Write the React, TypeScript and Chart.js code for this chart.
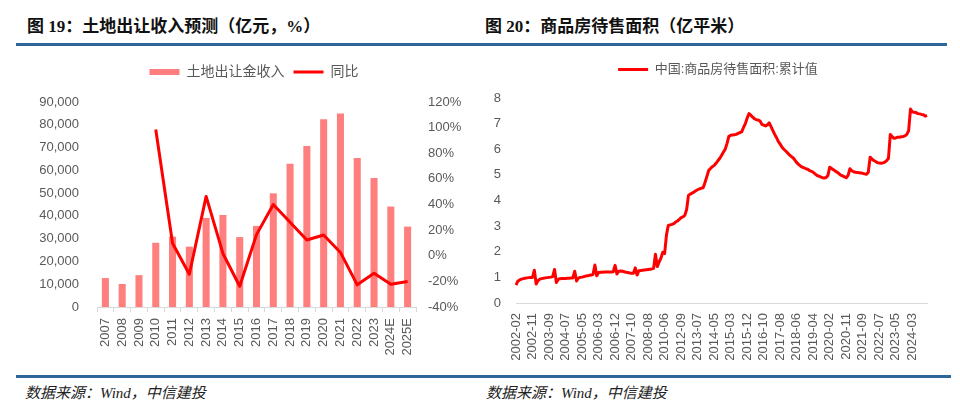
import React, { useEffect, useRef } from 'react';
import { Chart, registerables } from 'chart.js';

Chart.register(...registerables);

// ---------- Figure 19: land transfer revenue ----------
const landYears = ['2007', '2008', '2009', '2010', '2011', '2012', '2013', '2014', '2015', '2016', '2017', '2018', '2019', '2020', '2021', '2022', '2023', '2024E', '2025E'];
const landRevenue = [12700, 10100, 14000, 28200, 30900, 26500, 39100, 40400, 30700, 35600, 49900, 62900, 70700, 82400, 85000, 65400, 56600, 44100, 35300];
const landYoY = [null, null, null, 98.6, 9.7, -14.4, 46.3, 1.8, -23.8, 16.5, 40.0, 26.1, 12.3, 16.2, 2.6, -22.7, -13.6, -22.2, -20.1];

// ---------- Figure 20: commodity housing area for sale (100m m2) ----------
const stock2002 = [0.70, 0.85, 0.90, 0.93, 0.95, 0.97, 0.98, 0.99, 1.00, 1.00, 1.28];
const stock2003 = [0.74, 0.88, 0.93, 0.95, 0.97, 0.98, 0.99, 1.00, 1.01, 1.03, 1.31];
const stock2004 = [0.80, 0.92, 0.95, 0.96, 0.96, 0.96, 0.97, 0.97, 0.98, 0.98, 1.24];
const stock2005 = [0.86, 0.97, 1.00, 1.01, 1.03, 1.05, 1.06, 1.08, 1.09, 1.12, 1.48];
const stock2006 = [1.06, 1.19, 1.20, 1.20, 1.21, 1.21, 1.21, 1.21, 1.21, 1.22, 1.47];
const stock2007 = [1.13, 1.24, 1.25, 1.24, 1.22, 1.20, 1.19, 1.17, 1.16, 1.16, 1.37];
const stock2008 = [1.09, 1.26, 1.27, 1.28, 1.29, 1.30, 1.31, 1.32, 1.33, 1.35, 1.90];
const stock2010 = [1.42, 1.60, 1.75, 1.98, 1.93];
const stock2011 = [2.65];
const stock2012 = [3.03, 3.05, 3.07, 3.10, 3.16, 3.20, 3.26, 3.33, 3.36, 3.42, 3.65];
const stock2013 = [4.20, 4.25, 4.29, 4.33, 4.38, 4.42, 4.45, 4.48, 4.50, 4.70, 4.93];
const stock2014 = [5.17, 5.25, 5.32, 5.37, 5.45, 5.55, 5.64, 5.76, 5.88, 6.00, 6.22];
const stock2015 = [6.50, 6.55, 6.56, 6.57, 6.58, 6.62, 6.65, 6.68, 6.85, 7.00, 7.22];
const stock2016 = [7.39, 7.33, 7.25, 7.19, 7.15, 7.14, 7.10, 6.97, 6.94, 6.91, 6.95];
const stock2017 = [7.03, 6.88, 6.73, 6.58, 6.45, 6.30, 6.20, 6.08, 6.00, 5.93, 5.86];
const stock2018 = [5.78, 5.72, 5.67, 5.58, 5.48, 5.41, 5.35, 5.30, 5.27, 5.24, 5.22];
const stock2019 = [5.17, 5.14, 5.10, 5.04, 4.98, 4.95, 4.92, 4.89, 4.88, 4.90, 4.98];
const stock2020 = [5.30, 5.25, 5.20, 5.15, 5.10, 5.05, 4.99, 4.96, 4.92, 4.89, 4.98];
const stock2021 = [5.24, 5.16, 5.12, 5.10, 5.09, 5.08, 5.07, 5.06, 5.04, 5.02, 5.10];
const stock2022 = [5.69, 5.62, 5.56, 5.52, 5.48, 5.46, 5.45, 5.47, 5.50, 5.56, 5.64];
const stock2023 = [6.58, 6.49, 6.43, 6.44, 6.47, 6.47, 6.49, 6.50, 6.52, 6.58, 6.73];
const stock2024 = [7.57, 7.46, 7.44, 7.43, 7.39, 7.38, 7.36, 7.35, 7.29, 7.32];

// [year, first month, values]
const stockSegments: Array<[number, number, number[]]> = [
  [2002, 2, stock2002], [2003, 2, stock2003], [2004, 2, stock2004], [2005, 2, stock2005],
  [2006, 2, stock2006], [2007, 2, stock2007], [2008, 2, stock2008], [2010, 2, stock2010],
  [2011, 12, stock2011], [2012, 2, stock2012], [2013, 2, stock2013], [2014, 2, stock2014],
  [2015, 2, stock2015], [2016, 2, stock2016], [2017, 2, stock2017], [2018, 2, stock2018],
  [2019, 2, stock2019], [2020, 2, stock2020], [2021, 2, stock2021], [2022, 2, stock2022],
  [2023, 2, stock2023], [2024, 2, stock2024],
];

const stockLabels: string[] = [];
const stockValues: number[] = [];
stockSegments.forEach(([year, m0, vals]) => {
  vals.forEach((v, k) => {
    const m = m0 + k;
    stockLabels.push(`${year}-${m < 10 ? '0' + m : m}`);
    stockValues.push(v);
  });
});
const STOCK_LABEL_STEP = 9;

const FONT = "'Liberation Sans', 'Noto Sans CJK SC', sans-serif";
const GRAY = '#595959';
const AXIS = '#d9d9d9';

// adds extra space between the legend and the plot area
const legendGap = {
  id: 'legendGap',
  afterInit(chart: any, _args: any, opts: any) {
    const legend = chart.legend;
    if (!legend) return;
    const origFit = legend.fit;
    legend.fit = function () {
      origFit.call(this);
      this.height += (opts && opts.gap) || 0;
    };
  },
};

function LandChart() {
  const ref = useRef<HTMLCanvasElement>(null);
  useEffect(() => {
    const chart = new Chart(ref.current!, {
      type: 'bar',
      data: {
        labels: landYears,
        datasets: [
          {
            type: 'bar',
            label: '土地出让金收入',
            data: landRevenue,
            backgroundColor: '#ff7f7f',
            borderWidth: 0,
            yAxisID: 'y',
            barPercentage: 0.42,
            categoryPercentage: 1,
            pointStyle: 'rect',
            order: 2,
          } as any,
          {
            type: 'line',
            label: '同比',
            data: landYoY,
            borderColor: '#ff0000',
            backgroundColor: '#ff0000',
            borderWidth: 3,
            pointRadius: 0,
            borderJoinStyle: 'round',
            yAxisID: 'y1',
            pointStyle: 'line',
            order: 1,
          } as any,
        ],
      },
      plugins: [legendGap],
      options: {
        animation: false,
        responsive: false,
        maintainAspectRatio: false,
        layout: { padding: { top: 0, left: 28, right: 0, bottom: 0 } },
        plugins: {
          legendGap: { gap: 13 },
          legend: {
            position: 'top',
            labels: {
              usePointStyle: true,
              pointStyleWidth: 30,
              boxHeight: 6,
              color: GRAY,
              font: { family: FONT, size: 14 },
              padding: 9,
              sort: (a: any, b: any) => a.datasetIndex - b.datasetIndex,
            },
          },
          tooltip: { enabled: false },
        },
        scales: {
          x: {
            grid: { display: true, drawOnChartArea: false, drawTicks: true, tickLength: 5, color: AXIS, offset: true },
            border: { display: true, color: AXIS },
            ticks: { color: GRAY, font: { family: FONT, size: 13 }, maxRotation: 90, minRotation: 90, autoSkip: false, padding: 6 },
            afterFit: (s: any) => { s.height = 63; },
          },
          y: {
            position: 'left',
            min: 0,
            max: 90000,
            ticks: {
              stepSize: 10000,
              color: GRAY,
              font: { family: FONT, size: 13 },
              padding: 18,
              callback: (v: any) => Number(v).toLocaleString('en-US'),
            },
            grid: { display: false, drawTicks: false },
            border: { display: false },
            afterFit: (s: any) => { s.width = 69; },
          },
          y1: {
            position: 'right',
            min: -40,
            max: 120,
            ticks: {
              stepSize: 20,
              color: GRAY,
              font: { family: FONT, size: 13 },
              padding: 12,
              callback: (v: any) => `${v}%`,
            },
            grid: { display: false, drawTicks: false },
            border: { display: false },
            afterFit: (s: any) => { s.width = 64; },
          },
        },
      } as any,
    });
    return () => chart.destroy();
  }, []);
  return (
    <canvas
      ref={ref}
      width={480}
      height={314}
      style={{ position: 'absolute', left: 0, top: 56, width: 480, height: 314 }}
    />
  );
}

function StockChart() {
  const ref = useRef<HTMLCanvasElement>(null);
  useEffect(() => {
    const chart = new Chart(ref.current!, {
      type: 'line',
      data: {
        labels: stockLabels,
        datasets: [
          {
            label: '中国:商品房待售面积:累计值',
            data: stockValues,
            borderColor: '#ff0000',
            backgroundColor: '#ff0000',
            borderWidth: 3,
            pointRadius: 0,
            borderJoinStyle: 'round',
            pointStyle: 'line',
            tension: 0,
          } as any,
        ],
      },
      plugins: [legendGap],
      options: {
        animation: false,
        responsive: false,
        maintainAspectRatio: false,
        layout: { padding: { top: 0, left: 0, right: 4, bottom: 0 } },
        plugins: {
          legendGap: { gap: 12 },
          legend: {
            position: 'top',
            labels: {
              usePointStyle: true,
              pointStyleWidth: 30,
              boxHeight: 6,
              color: GRAY,
              font: { family: FONT, size: 13 },
              padding: 7,
            },
          },
          tooltip: { enabled: false },
        },
        scales: {
          x: {
            offset: false,
            grid: { display: false, drawTicks: false },
            border: { display: true, color: AXIS },
            ticks: {
              color: GRAY,
              font: { family: FONT, size: 13 },
              maxRotation: 90,
              minRotation: 90,
              autoSkip: false,
              padding: 10,
              callback: (_v: any, i: number) => (i % STOCK_LABEL_STEP === 0 ? stockLabels[i] : null),
            },
            afterFit: (s: any) => { s.height = 67; },
          },
          y: {
            position: 'left',
            min: 0,
            max: 8,
            ticks: { stepSize: 1, color: GRAY, font: { family: FONT, size: 13 }, padding: 15 },
            grid: { display: false, drawTicks: false },
            border: { display: false },
            afterFit: (s: any) => { s.width = 36; },
          },
          yPad: {
            axis: 'y',
            position: 'right',
            display: true,
            ticks: { display: false },
            grid: { display: false, drawTicks: false },
            border: { display: false },
            afterFit: (s: any) => { s.width = 29; },
          },
        },
      } as any,
    });
    return () => chart.destroy();
  }, []);
  return (
    <canvas
      ref={ref}
      width={480}
      height={314}
      style={{ position: 'absolute', left: 480, top: 56, width: 480, height: 314 }}
    />
  );
}

const titleStyle: React.CSSProperties = {
  position: 'absolute',
  top: 17,
  fontFamily: "'Liberation Serif', 'Noto Sans CJK SC', serif",
  fontWeight: 'bold',
  fontSize: 17,
  lineHeight: '20px',
  color: '#111',
  whiteSpace: 'nowrap',
};

const sourceStyle: React.CSSProperties = {
  position: 'absolute',
  top: 384,
  fontFamily: "'Liberation Serif', 'Noto Sans CJK SC', serif",
  fontStyle: 'italic',
  fontSize: 15,
  lineHeight: '18px',
  color: '#222',
  whiteSpace: 'nowrap',
};

export default function App() {
  return (
    <div style={{ position: 'fixed', left: 0, top: 0, width: 960, height: 405, background: '#fff', overflow: 'hidden' }}>
      <div style={{ ...titleStyle, left: 27 }}>图 19：土地出让收入预测（亿元，%）</div>
      <div style={{ ...titleStyle, left: 485 }}>图 20：商品房待售面积（亿平米）</div>
      <div style={{ position: 'absolute', left: 16, top: 43, width: 931, height: 3, background: '#2e6699' }} />
      <LandChart />
      <StockChart />
      <div style={{ position: 'absolute', left: 16, top: 375, width: 935, height: 3, background: '#2e6699' }} />
      <div style={{ ...sourceStyle, left: 25 }}>数据来源：Wind，中信建投</div>
      <div style={{ ...sourceStyle, left: 486 }}>数据来源：Wind，中信建投</div>
    </div>
  );
}
